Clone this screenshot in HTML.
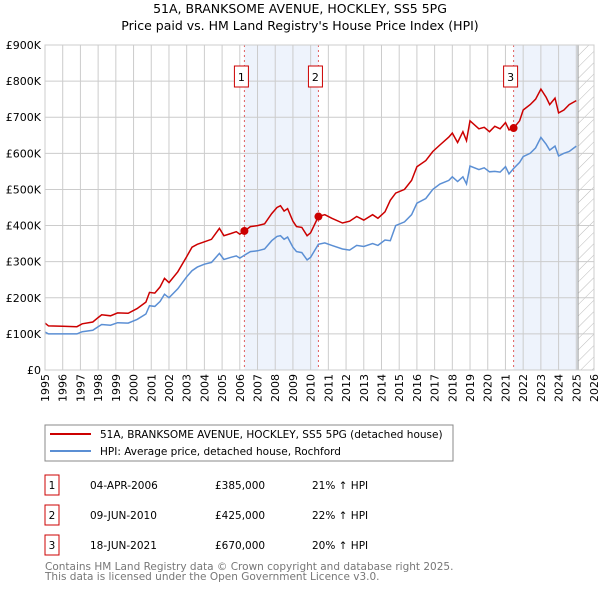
<!DOCTYPE html>
<html><head><meta charset="utf-8"><style>
body{margin:0;background:#fff;}
svg text{font-family:"DejaVu Sans","Liberation Sans",sans-serif;}
</style></head><body>
<svg width="600" height="590" xmlns="http://www.w3.org/2000/svg">
<defs>
<pattern id="hatch" width="8" height="8" patternUnits="userSpaceOnUse" patternTransform="rotate(45)">
<line x1="0" y1="0" x2="0" y2="8" stroke="#bbb" stroke-width="1"/></pattern>
</defs>
<text x="300" y="13" text-anchor="middle" font-size="12.5" fill="#000">51A, BRANKSOME AVENUE, HOCKLEY, SS5 5PG</text>
<text x="300" y="30" text-anchor="middle" font-size="12.5" fill="#000">Price paid vs. HM Land Registry's House Price Index (HPI)</text>
<g id="plot"></g>
<g id="legend">
<rect x="45" y="425" width="408" height="36" fill="#fff" stroke="#888"/>
<line x1="50" y1="434" x2="91" y2="434" stroke="#cc0000" stroke-width="2"/>
<text x="100" y="438" font-size="10.5">51A, BRANKSOME AVENUE, HOCKLEY, SS5 5PG (detached house)</text>
<line x1="50" y1="451" x2="91" y2="451" stroke="#5b8fd4" stroke-width="2"/>
<text x="100" y="455" font-size="10.5">HPI: Average price, detached house, Rochford</text>
</g>
<g id="table" font-size="10.5"></g>
<text x="45" y="570" font-size="10.5" fill="#777">Contains HM Land Registry data © Crown copyright and database right 2025.</text>
<text x="45" y="580" font-size="10.5" fill="#777">This data is licensed under the Open Government Licence v3.0.</text>
</svg>
<script>
const years=[1995.0,1995.2,1996.0,1996.8,1997.1,1997.7,1998.0,1998.2,1998.7,1999.1,1999.7,2000.2,2000.7,2000.9,2001.2,2001.5,2001.75,2002.0,2002.5,2003.0,2003.3,2003.6,2004.0,2004.4,2004.85,2005.1,2005.5,2005.8,2006.0,2006.26,2006.6,2007.0,2007.4,2007.8,2008.1,2008.3,2008.5,2008.7,2009.0,2009.2,2009.5,2009.8,2010.0,2010.44,2010.8,2011.2,2011.8,2012.2,2012.6,2013.0,2013.5,2013.8,2014.2,2014.5,2014.8,2015.3,2015.7,2016.0,2016.5,2016.9,2017.3,2017.8,2018.0,2018.3,2018.6,2018.8,2019.0,2019.5,2019.8,2020.1,2020.4,2020.7,2021.0,2021.2,2021.46,2021.8,2022.0,2022.4,2022.7,2023.0,2023.3,2023.5,2023.8,2024.0,2024.3,2024.6,2025.0];
const hpi=[105,100,100,100,106,110,120,126,124,131,130,140,155,178,176,190,210,200,225,258,275,285,293,298,323,306,312,316,310,318,328,330,335,358,370,372,362,368,340,328,325,305,312,348,352,345,335,332,345,342,350,345,360,358,400,410,430,462,475,500,515,525,535,522,535,515,565,555,560,549,550,548,563,543,558,575,591,600,615,644,625,609,620,593,600,605,620];
const price=[130,122,121,120,128,133,145,153,150,158,157,170,188,215,213,230,254,242,272,314,340,348,355,362,392,372,378,383,376,385,397,400,405,433,450,455,440,447,412,397,395,372,380,425,430,420,407,412,425,415,430,420,438,470,490,500,525,563,580,605,623,645,656,630,660,635,690,668,672,660,675,668,685,665,670,690,720,735,750,778,755,735,753,712,720,735,746];
const saleYears=[2006.26,2010.44,2021.46];
const salePrices=[385,425,670];
const saleDates=["04-APR-2006","09-JUN-2010","18-JUN-2021"];
const salePriceLabels=["£385,000","£425,000","£670,000"];
const saleHpiLabels=["21% ↑ HPI","22% ↑ HPI","20% ↑ HPI"];
const yTicks=[0,100,200,300,400,500,600,700,800,900];
const yTickLabels=["£0","£100K","£200K","£300K","£400K","£500K","£600K","£700K","£800K","£900K"];
const xTicks=[1995,1996,1997,1998,1999,2000,2001,2002,2003,2004,2005,2006,2007,2008,2009,2010,2011,2012,2013,2014,2015,2016,2017,2018,2019,2020,2021,2022,2023,2024,2025,2026];
const dataEnd=2025.1;

const NS="http://www.w3.org/2000/svg";
const X0=45,X1=594,Y0=370,Y1=45;
const xs=y=>X0+(y-1995)/(2026-1995)*(X1-X0);
const ys=v=>Y0-v/900*(Y0-Y1);
const plot=document.getElementById('plot');
function mk(tag,attrs,parent){const e=document.createElementNS(NS,tag);for(const k in attrs)e.setAttribute(k,attrs[k]);(parent||plot).appendChild(e);return e;}

let r;
r=mk('rect',{x:xs(saleYears[0]),y:Y1,width:xs(saleYears[1])-xs(saleYears[0]),height:Y0-Y1,fill:'#eef3fc'});


r=mk('rect',{x:xs(saleYears[2]),y:Y1,width:xs(dataEnd)-xs(saleYears[2]),height:Y0-Y1,fill:'#eef3fc'});


r=mk('rect',{x:xs(dataEnd),y:Y1,width:X1-xs(dataEnd),height:Y0-Y1,fill:'url(#hatch)'});



xTicks.forEach((t,i)=>{
  const l=mk('line',{x1:xs(t),x2:xs(t),y1:Y1,y2:Y0,stroke:'#ccc','stroke-width':1});
  
  
  const tx=mk('text',{x:0,y:0,'font-size':11,'text-anchor':'end',transform:`translate(${xs(t)+4},374) rotate(-90)`});
  tx.textContent=t;
  
  
});
yTicks.forEach((t,i)=>{
  const l=mk('line',{x1:X0,x2:X1,y1:ys(t),y2:ys(t),stroke:'#ccc','stroke-width':1});
  
  
  const tx=mk('text',{x:41,y:ys(t)+4,'font-size':11,'text-anchor':'end'});
  tx.textContent=yTickLabels[i];
  
  
});
r=mk('line',{x1:xs(dataEnd),x2:xs(dataEnd),y1:Y1,y2:Y0,stroke:'#999','stroke-width':1});



saleYears.forEach((s,i)=>{
  const l=mk('line',{x1:xs(s),x2:xs(s),y1:Y1,y2:Y0,stroke:'#e06060','stroke-width':1,'stroke-dasharray':'2,3'});
  
  
  const b=mk('rect',{x:xs(s)-10,y:66,width:14,height:21,fill:'#fff',stroke:'#cc0000'});
  
  
  const t=mk('text',{x:xs(s)-3,y:81,'font-size':11,'text-anchor':'middle'});
  t.textContent=i+1;
  
  
});

const pts=a=>years.map((y,i)=>xs(y).toFixed(1)+','+ys(a[i]).toFixed(1)).join(' ');
r=mk('polyline',{points:pts(hpi),fill:'none',stroke:'#5b8fd4','stroke-width':1.5});


r=mk('polyline',{points:pts(price),fill:'none',stroke:'#cc0000','stroke-width':1.5});


saleYears.forEach((s,i)=>{
  const c=mk('circle',{cx:xs(s),cy:ys(salePrices[i]),r:4,fill:'#cc0000'});
  
  
});
r=mk('rect',{x:X0,y:Y1,width:X1-X0,height:Y0-Y1,fill:'none',stroke:'#ccc'});



const tbl=document.getElementById('table');
saleYears.forEach((s,i)=>{
  const yy=475+i*30;
  const b=mk('rect',{x:45,y:yy,width:14,height:20,fill:'#fff',stroke:'#cc0000'},tbl);
  
  
  const cells=[[52,String(i+1),'middle'],[90,saleDates[i],'start'],[215,salePriceLabels[i],'start'],[312,saleHpiLabels[i],'start']];
  cells.forEach(c=>{
    const t=mk('text',{x:c[0],y:yy+14,'text-anchor':c[2]},tbl);
    t.textContent=c[1];
    
    
  });
});
</script>
</body></html>
